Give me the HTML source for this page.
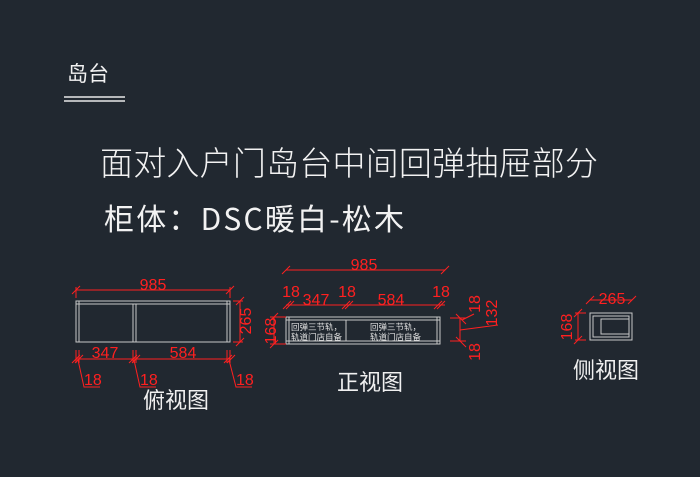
<!DOCTYPE html>
<html><head><meta charset="utf-8"><style>
html,body{margin:0;padding:0;background:#212830;}
svg{display:block}
</style></head><body>
<svg width="700" height="477" viewBox="0 0 700 477" xmlns="http://www.w3.org/2000/svg" font-family="Liberation Sans, Noto Sans CJK SC, sans-serif">
<rect width="700" height="477" fill="#212830"/>
<text x="67" y="81" fill="#f2f2f2" font-size="21">岛台</text>
<line x1="64" y1="97" x2="125" y2="97" stroke="#e8e8e8" stroke-width="1.5"/>
<line x1="64" y1="101" x2="125" y2="101" stroke="#e8e8e8" stroke-width="1.5"/>
<text x="100" y="175" fill="#f2f2f2" font-size="33" textLength="498" font-family="Noto Sans CJK SC, sans-serif" font-weight="300">面对入户门岛台中间回弹抽屉部分</text>
<text x="104" y="230" fill="#f2f2f2" font-size="30" textLength="300" font-family="Liberation Sans Narrow, Noto Sans CJK SC, sans-serif">柜体：DSC暖白-松木</text>

<g stroke="#c8c8c8" fill="none" stroke-width="1">
<rect x="76" y="301" width="154" height="41"/>
<line x1="76" y1="304" x2="230" y2="304"/>
<line x1="79" y1="301" x2="79" y2="342"/>
<line x1="227" y1="301" x2="227" y2="342"/>
<line x1="133" y1="304" x2="133" y2="342"/>
<line x1="136" y1="304" x2="136" y2="342"/>
<rect x="286" y="317" width="154" height="27"/>
<line x1="289" y1="317" x2="289" y2="344"/>
<line x1="437" y1="317" x2="437" y2="344"/>
<line x1="286" y1="320" x2="440" y2="320"/>
<line x1="286" y1="341" x2="440" y2="341"/>
<line x1="346" y1="320" x2="346" y2="341"/>
<rect x="590" y="313" width="42" height="27"/>
<rect x="593" y="316" width="36" height="21"/>
<rect x="601" y="319" width="28" height="15"/>
</g>
<g fill="#e0e0e0" font-size="8.5">
<text x="291" y="330">回弹三节轨，</text>
<text x="291" y="340">轨道门店自备</text>
<text x="370" y="330">回弹三节轨，</text>
<text x="370" y="340">轨道门店自备</text>
</g>

<g stroke="#ff2020" stroke-width="1" fill="none">
<line x1="76" y1="290" x2="230" y2="290"/>
<line x1="72" y1="294" x2="80" y2="286"/><line x1="226" y1="294" x2="234" y2="286"/>
<line x1="76" y1="287" x2="76" y2="298"/><line x1="230" y1="287" x2="230" y2="298"/>
<line x1="240" y1="301" x2="240" y2="342"/>
<line x1="236" y1="305" x2="244" y2="297"/><line x1="236" y1="346" x2="244" y2="338"/>
<line x1="233" y1="301" x2="243" y2="301"/><line x1="233" y1="342" x2="243" y2="342"/>
<line x1="76" y1="359" x2="230" y2="359"/>
<line x1="72" y1="363" x2="80" y2="355"/><line x1="75" y1="363" x2="83" y2="355"/>
<line x1="129" y1="363" x2="137" y2="355"/><line x1="132" y1="363" x2="140" y2="355"/>
<line x1="224" y1="363" x2="232" y2="355"/><line x1="227" y1="363" x2="235" y2="355"/>
<line x1="76" y1="350" x2="76" y2="363"/><line x1="79" y1="350" x2="79" y2="363"/>
<line x1="133" y1="350" x2="133" y2="363"/><line x1="136" y1="350" x2="136" y2="363"/>
<line x1="227" y1="350" x2="227" y2="363"/><line x1="230" y1="350" x2="230" y2="363"/>
<polyline points="78,360 84,387 100,387"/>
<polyline points="134,360 140,387 156,387"/>
<polyline points="229,360 236,387 252,387"/>
<line x1="286" y1="270" x2="445" y2="270"/>
<line x1="282" y1="274" x2="290" y2="266"/><line x1="441" y1="274" x2="449" y2="266"/>
<line x1="286" y1="305" x2="445" y2="305"/>
<line x1="283" y1="309" x2="291" y2="301"/><line x1="286" y1="309" x2="294" y2="301"/>
<line x1="342" y1="309" x2="350" y2="301"/><line x1="345" y1="309" x2="353" y2="301"/>
<line x1="434" y1="309" x2="442" y2="301"/><line x1="437" y1="309" x2="445" y2="301"/>
<line x1="274" y1="317" x2="274" y2="344"/>
<line x1="270" y1="321" x2="278" y2="313"/><line x1="270" y1="348" x2="278" y2="340"/>
<line x1="270" y1="317" x2="286" y2="317"/><line x1="270" y1="344" x2="286" y2="344"/>
<line x1="450" y1="318" x2="466" y2="318"/><line x1="450" y1="341" x2="466" y2="341"/>
<line x1="456" y1="314" x2="466" y2="324"/><line x1="456" y1="337" x2="466" y2="347"/>
<line x1="460" y1="318" x2="460" y2="341"/>
<polyline points="462,320 474,314"/>
<polyline points="460,330 498,325"/>
<line x1="590" y1="300" x2="632" y2="300"/>
<line x1="586" y1="304" x2="594" y2="296"/><line x1="628" y1="304" x2="636" y2="296"/>
<line x1="578" y1="313" x2="578" y2="340"/>
<line x1="574" y1="317" x2="582" y2="309"/><line x1="574" y1="344" x2="582" y2="336"/>
<line x1="575" y1="313" x2="586" y2="313"/><line x1="575" y1="340" x2="586" y2="340"/>
</g>

<g fill="#ff2020" font-size="16">
<text x="153" y="290" text-anchor="middle">985</text>
<text x="105" y="358" text-anchor="middle">347</text>
<text x="183" y="358" text-anchor="middle">584</text>
<text x="84" y="385">18</text><text x="140" y="385">18</text><text x="236" y="385">18</text>
<text transform="translate(251,321) rotate(-90)" text-anchor="middle">265</text>
<text x="364" y="270" text-anchor="middle">985</text>
<text x="291" y="297" text-anchor="middle">18</text>
<text x="347" y="297" text-anchor="middle">18</text>
<text x="441" y="297" text-anchor="middle">18</text>
<text x="316" y="305" text-anchor="middle">347</text>
<text x="391" y="305" text-anchor="middle">584</text>
<text transform="translate(276,331) rotate(-90)" text-anchor="middle">168</text>
<text transform="translate(480,304) rotate(-90)" text-anchor="middle">18</text>
<text transform="translate(497,313) rotate(-90)" text-anchor="middle">132</text>
<text transform="translate(480,352) rotate(-90)" text-anchor="middle">18</text>
<text x="612" y="304" text-anchor="middle">265</text>
<text transform="translate(572,327) rotate(-90)" text-anchor="middle">168</text>
</g>

<g fill="#f0f0f0" font-size="22">
<text x="143" y="408">俯视图</text>
<text x="337" y="390">正视图</text>
<text x="573" y="378">侧视图</text>
</g>
</svg>
</body></html>
